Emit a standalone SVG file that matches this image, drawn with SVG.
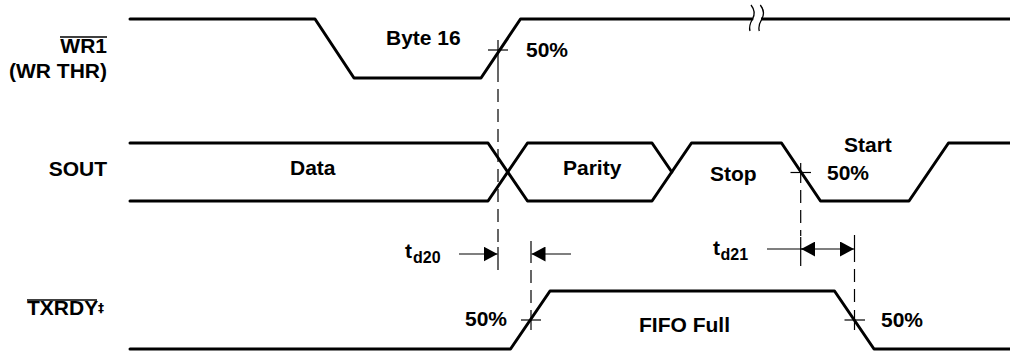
<svg xmlns="http://www.w3.org/2000/svg" width="1010" height="352" viewBox="0 0 1010 352">
<defs>
<style>
.wave{fill:none;stroke:#000;stroke-width:3;stroke-linejoin:round;stroke-linecap:round}
.thin{fill:none;stroke:#000;stroke-width:1.2}
.dash{fill:none;stroke:#000;stroke-width:1.2;stroke-dasharray:13 7}
.brk{fill:none;stroke:#000;stroke-width:1.3}
.arr{fill:none;stroke:#000;stroke-width:1.2;marker-end:url(#ah)}
text{font-family:"Liberation Sans",Arial,Helvetica,sans-serif;font-weight:bold;font-size:21px;fill:#000}
.sub{font-size:16px}
.sup{font-family:"DejaVu Sans",sans-serif;font-size:12px}
.end{text-anchor:end}
</style>
<marker id="ah" markerUnits="userSpaceOnUse" markerWidth="14" markerHeight="15" refX="14" refY="7.5" orient="auto" viewBox="0 0 14 15">
<path d="M0,0 L14,7.5 L0,15 Z" fill="#000"/>
</marker>
</defs>
<rect width="1010" height="352" fill="#fff"/>

<g id="labels">
<text class="end" x="107" y="53">WR1</text>
<line class="thin" x1="60" y1="37" x2="107" y2="37" style="stroke-width:1.5"/>
<text class="end" x="107" y="78">(WR THR)</text>
<text class="end" x="107" y="176">SOUT</text>
<text x="27" y="315">TXRDY</text>
<line class="thin" x1="27" y1="300" x2="97" y2="300" style="stroke-width:1.5"/>
<text class="sup" x="98" y="312">‡</text>
</g>

<g id="wr1">
<path class="wave" d="M130,19 L315,19 L354,78 L481,78 L520.5,19 L752,19"/>
<path class="wave" d="M761,19 L1010,19" style="stroke-linecap:butt"/>
<path class="brk" d="M751,5 Q756.5,12 752.5,19 Q748.5,26 750,31"/>
<path class="brk" d="M760.3,5 Q765.8,12 761.8,19 Q757.8,26 759.3,31"/>
<text x="386" y="45">Byte 16</text>
<text x="526" y="57">50%</text>
</g>

<g id="sout">
<path class="wave" d="M130,143 L488,143 L527.5,201 L652,201 L691.5,143 L781.5,143 L820.5,201 L909,201 L948.5,143 L1010,143"/>
<path class="wave" d="M130,201 L488,201 L527.5,143 L652,143 L671.8,172"/>
<text x="290" y="175">Data</text>
<text x="563" y="175">Parity</text>
<text x="710" y="181">Stop</text>
<text x="844" y="152">Start</text>
<text x="827" y="180">50%</text>
</g>

<g id="txrdy">
<path class="wave" d="M130,349 L510.5,349 L550,291 L834.5,291 L874,349 L1010,349"/>
<text x="465" y="326">50%</text>
<text x="639" y="332">FIFO Full</text>
<text x="881" y="327">50%</text>
</g>

<g id="connectors">
<line class="thin" x1="488" y1="50" x2="508" y2="50"/>
<line class="thin" x1="498" y1="40" x2="498" y2="82"/>
<line class="dash" x1="498" y1="89" x2="498" y2="245"/>
<line class="thin" x1="498" y1="247" x2="498" y2="270"/>
<line class="thin" x1="790.5" y1="172.5" x2="811" y2="172.5"/>
<line class="thin" x1="800.7" y1="163" x2="800.7" y2="183"/>
<line class="dash" x1="800.7" y1="190" x2="800.7" y2="236"/>
<line class="thin" x1="800.7" y1="237" x2="800.7" y2="266"/>
<line class="thin" x1="521" y1="320" x2="541" y2="320"/>
<line class="thin" x1="531" y1="241" x2="531" y2="263"/>
<line class="dash" x1="531" y1="270" x2="531" y2="308"/>
<line class="thin" x1="531" y1="310" x2="531" y2="330"/>
<line class="thin" x1="844.5" y1="320" x2="865" y2="320"/>
<line class="thin" x1="854.5" y1="235" x2="854.5" y2="262"/>
<line class="dash" x1="854.5" y1="269" x2="854.5" y2="308"/>
<line class="thin" x1="854.5" y1="310" x2="854.5" y2="330"/>
<line class="arr" x1="459" y1="254" x2="497.5" y2="254"/>
<line class="arr" x1="571" y1="254" x2="531.5" y2="254"/>
<text x="405" y="258">t</text>
<text class="sub" x="413" y="263">d20</text>
<line class="arr" x1="767" y1="249" x2="854" y2="249"/>
<line class="arr" x1="814" y1="249" x2="801.2" y2="249"/>
<text x="713" y="255">t</text>
<text class="sub" x="720.5" y="260">d21</text>
</g>
</svg>
